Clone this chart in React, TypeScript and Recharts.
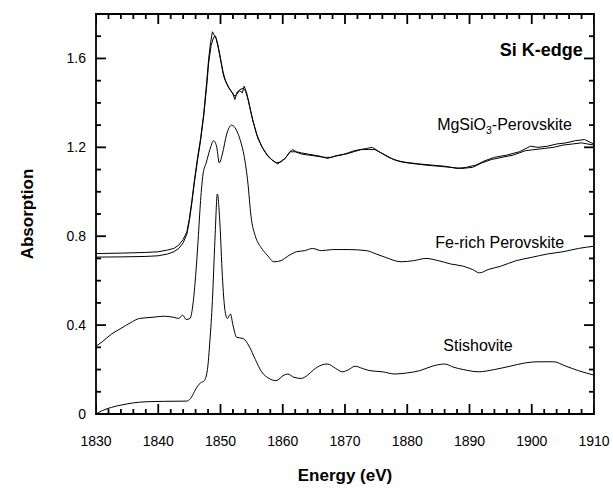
import { LineChart, Line, XAxis, YAxis, ReferenceDot, ReferenceArea } from "recharts";

const FONT = "'Liberation Sans', Arial, Helvetica, sans-serif";

// [energy (eV), absorption]
const mgsio3A: [number, number][] = [
  [1830, 0.722], [1834, 0.724], [1838, 0.727], [1840, 0.73], [1841.5, 0.738],
  [1842.5, 0.745], [1843.3, 0.76], [1844, 0.785], [1844.6, 0.82], [1845, 0.88],
  [1845.4, 0.96], [1845.8, 1.05], [1846.3, 1.15], [1846.8, 1.24], [1847.3, 1.35],
  [1847.8, 1.5], [1848.1, 1.6], [1848.4, 1.67], [1848.7, 1.72], [1849.0, 1.705],
  [1849.3, 1.69], [1849.7, 1.64], [1850.1, 1.58], [1850.5, 1.52], [1851.0, 1.485],
  [1851.5, 1.46], [1852.0, 1.44], [1852.3, 1.415], [1852.7, 1.45], [1853.1, 1.455],
  [1853.5, 1.445], [1853.8, 1.475], [1854.2, 1.445], [1854.7, 1.38], [1855.3, 1.31],
  [1856.0, 1.24], [1856.8, 1.195], [1857.6, 1.16], [1858.4, 1.14], [1859.2, 1.125],
  [1859.8, 1.14], [1860.4, 1.15], [1861.0, 1.175], [1861.5, 1.19], [1862.2, 1.18],
  [1863, 1.175], [1864, 1.17], [1865, 1.165], [1866, 1.16], [1867.2, 1.15],
  [1868.3, 1.16], [1869.4, 1.165], [1870.5, 1.175], [1871.5, 1.185], [1872.5, 1.19],
  [1873.5, 1.195], [1874.4, 1.2], [1875.5, 1.18], [1876.5, 1.165], [1877.8, 1.145],
  [1879, 1.135], [1880.5, 1.13], [1882, 1.125], [1884, 1.12], [1886, 1.115],
  [1888, 1.105], [1889.5, 1.11], [1891, 1.12], [1892.5, 1.14], [1894, 1.155],
  [1896, 1.165], [1898, 1.18], [1899.8, 1.205], [1901, 1.2], [1902.5, 1.205],
  [1904, 1.215], [1905.5, 1.22], [1907, 1.23], [1908.5, 1.235], [1909.2, 1.225],
  [1910, 1.215],
];

const mgsio3B: [number, number][] = [
  [1830, 0.706], [1834, 0.707], [1838, 0.709], [1840, 0.712], [1841.5, 0.72],
  [1842.5, 0.73], [1843.3, 0.745], [1844, 0.77], [1844.6, 0.81], [1845, 0.87],
  [1845.4, 0.95], [1845.8, 1.04], [1846.3, 1.14], [1846.8, 1.23], [1847.3, 1.34],
  [1847.8, 1.48], [1848.1, 1.58], [1848.5, 1.66], [1848.9, 1.695], [1849.2, 1.7],
  [1849.6, 1.66], [1850.0, 1.6], [1850.4, 1.54], [1850.8, 1.5], [1851.3, 1.47],
  [1851.8, 1.45], [1852.3, 1.43], [1852.7, 1.44], [1853.1, 1.46], [1853.6, 1.465],
  [1854.0, 1.455], [1854.5, 1.41], [1855.1, 1.33], [1855.8, 1.26], [1856.6, 1.205],
  [1857.4, 1.17], [1858.2, 1.145], [1859, 1.13], [1859.8, 1.135], [1860.5, 1.155],
  [1861.2, 1.18], [1862, 1.18], [1863, 1.17], [1864.2, 1.165], [1865.5, 1.16],
  [1866.6, 1.155], [1867.8, 1.155], [1869, 1.165], [1870.2, 1.17], [1871.4, 1.18],
  [1872.6, 1.19], [1873.8, 1.19], [1874.8, 1.19], [1875.8, 1.175], [1877, 1.155],
  [1878.4, 1.14], [1880, 1.13], [1881.5, 1.125], [1883, 1.12], [1885, 1.115],
  [1887, 1.11], [1888.8, 1.105], [1890.5, 1.11], [1892, 1.13], [1893.5, 1.145],
  [1895.2, 1.155], [1897, 1.165], [1899, 1.185], [1900.5, 1.19], [1902, 1.195],
  [1903.5, 1.2], [1905, 1.21], [1906.5, 1.215], [1908, 1.22], [1909, 1.215],
  [1910, 1.21],
];

const feRich: [number, number][] = [
  [1830, 0.305], [1831, 0.325], [1832.5, 0.36], [1834, 0.385], [1835.5, 0.41],
  [1837, 0.43], [1839, 0.435], [1841, 0.44], [1842.5, 0.435], [1843.3, 0.43],
  [1843.9, 0.445], [1844.5, 0.425], [1845.1, 0.43], [1845.6, 0.5], [1846.0, 0.62],
  [1846.4, 0.78], [1846.8, 0.96], [1847.2, 1.08], [1847.7, 1.13], [1848.3, 1.19],
  [1848.9, 1.23], [1849.4, 1.2], [1849.8, 1.13], [1850.3, 1.17], [1851.0, 1.26],
  [1851.8, 1.3], [1852.5, 1.28], [1853.2, 1.23], [1853.8, 1.16], [1854.4, 1.04],
  [1854.9, 0.89], [1855.6, 0.8], [1856.5, 0.75], [1857.5, 0.715], [1858.6, 0.685],
  [1859.7, 0.69], [1860.8, 0.71], [1862.2, 0.73], [1863.5, 0.735], [1864.8, 0.745],
  [1866.2, 0.735], [1868, 0.74], [1870.5, 0.74], [1873.5, 0.735], [1875, 0.72],
  [1876.5, 0.705], [1879, 0.685], [1881, 0.69], [1883, 0.7], [1885, 0.69],
  [1887, 0.675], [1889, 0.665], [1890.5, 0.65], [1891.6, 0.635], [1893, 0.65],
  [1895, 0.665], [1897.5, 0.69], [1900, 0.705], [1902.5, 0.72], [1905, 0.73],
  [1907.5, 0.745], [1910, 0.755],
];

const stishovite: [number, number][] = [
  [1830, 0.0], [1831, 0.015], [1832.5, 0.03], [1834, 0.04], [1836, 0.05],
  [1838, 0.055], [1841, 0.057], [1844.5, 0.058], [1845.2, 0.07], [1845.8, 0.1],
  [1846.3, 0.125], [1846.8, 0.14], [1847.4, 0.15], [1847.9, 0.2], [1848.3, 0.33],
  [1848.7, 0.51], [1849.1, 0.78], [1849.5, 0.99], [1849.9, 0.86], [1850.3, 0.62],
  [1850.7, 0.47], [1851.1, 0.43], [1851.6, 0.45], [1852.0, 0.4], [1852.6, 0.345],
  [1853.6, 0.34], [1854.6, 0.305], [1855.6, 0.245], [1856.6, 0.19], [1857.8, 0.16],
  [1858.9, 0.15], [1860.2, 0.175], [1860.8, 0.18], [1861.8, 0.165], [1863, 0.16],
  [1864, 0.175], [1865, 0.2], [1866.2, 0.22], [1867.2, 0.225], [1868.5, 0.205],
  [1869.6, 0.19], [1870.6, 0.2], [1871.6, 0.215], [1872.8, 0.205], [1874, 0.195],
  [1876, 0.19], [1878, 0.18], [1880, 0.185], [1882, 0.195], [1884, 0.215],
  [1886, 0.225], [1887.5, 0.21], [1889, 0.2], [1891.5, 0.19], [1894, 0.2],
  [1896.5, 0.215], [1899, 0.23], [1901, 0.235], [1903.5, 0.235], [1905.5, 0.215],
  [1907.5, 0.195], [1910, 0.175],
];

const xTicks = [1830, 1840, 1850, 1860, 1870, 1880, 1890, 1900, 1910];
const xMinorTicks = [
  1830, 1832, 1834, 1836, 1838, 1840, 1842, 1844, 1846, 1848, 1850, 1852, 1854,
  1856, 1858, 1860, 1862, 1864, 1866, 1868, 1870, 1872, 1874, 1876, 1878, 1880,
  1882, 1884, 1886, 1888, 1890, 1892, 1894, 1896, 1898, 1900, 1902, 1904, 1906,
  1908, 1910,
];
const yTicks = [0, 0.4, 0.8, 1.2, 1.6];
const yMinorTicks = [
  0, 0.1, 0.2, 0.3, 0.4, 0.5, 0.6, 0.7, 0.8, 0.9, 1.0, 1.1, 1.2, 1.3, 1.4, 1.5,
  1.6, 1.7, 1.8,
];
const xDomain: [number, number] = [1830, 1910];
const yDomain: [number, number] = [0, 1.8];

// tick lengths in data units (about 10px major / 5px minor on this plot)
const TICK_Y = { major: 0.045, minor: 0.0225 };
const TICK_X = { major: 1.6, minor: 0.8 };

const toRows = (pts: [number, number][]) => pts.map(([e, a]) => ({ e, a }));

// inward tick marks, each a short two-point series
const tickSegments = () => {
  const segs: { id: string; rows: { e: number; a: number }[] }[] = [];
  xMinorTicks.forEach((v) => {
    const len = xTicks.includes(v) ? TICK_Y.major : TICK_Y.minor;
    segs.push({ id: `b${v}`, rows: [{ e: v, a: yDomain[0] }, { e: v, a: yDomain[0] + len }] });
    segs.push({ id: `t${v}`, rows: [{ e: v, a: yDomain[1] }, { e: v, a: yDomain[1] - len }] });
  });
  yMinorTicks.forEach((v) => {
    const len = yTicks.includes(v) ? TICK_X.major : TICK_X.minor;
    segs.push({ id: `l${v}`, rows: [{ e: xDomain[0], a: v }, { e: xDomain[0] + len, a: v }] });
    segs.push({ id: `r${v}`, rows: [{ e: xDomain[1] - len, a: v }, { e: xDomain[1], a: v }] });
  });
  return segs;
};

// tick numbers only
const AxisLabel = (props: any) => {
  const { x, y, payload, side } = props;
  const v = payload.value;
  if (side === "bottom") {
    return (
      <text x={x} y={y + 32} textAnchor="middle" fontFamily={FONT} fontSize={14} fill="#000">
        {v}
      </text>
    );
  }
  return (
    <text x={x - 10} y={y} dy="0.36em" textAnchor="end" fontFamily={FONT} fontSize={14} fill="#000">
      {v === 0 ? "0" : v.toFixed(1)}
    </text>
  );
};

const Note = (props: any) => {
  const { viewBox, text, sub, rest, anchor = "start", size = 16, bold } = props;
  if (!viewBox) return null;
  return (
    <text
      x={viewBox.x}
      y={viewBox.y}
      textAnchor={anchor}
      fontFamily={FONT}
      fontSize={size}
      fontWeight={bold ? "bold" : "normal"}
      fill="#000"
    >
      {text}
      {sub && (
        <tspan fontSize={size * 0.65} dy={4}>
          {sub}
        </tspan>
      )}
      {rest && <tspan dy={sub ? -4 : 0}>{rest}</tspan>}
    </text>
  );
};

const YTitle = (props: any) => {
  const vb = props.viewBox;
  if (!vb) return null;
  const x = vb.x + 27;
  const y = vb.y + vb.height / 2;
  return (
    <text
      x={x}
      y={y}
      transform={`rotate(-90, ${x}, ${y})`}
      textAnchor="middle"
      dominantBaseline="central"
      fontFamily={FONT}
      fontSize={17}
      fontWeight="bold"
      fill="#000"
    >
      Absorption
    </text>
  );
};

const XTitle = (props: any) => {
  const vb = props.viewBox;
  if (!vb) return null;
  return (
    <text
      x={vb.x + vb.width / 2}
      y={vb.y + 67}
      textAnchor="middle"
      fontFamily={FONT}
      fontSize={17}
      fontWeight="bold"
      fill="#000"
    >
      Energy (eV)
    </text>
  );
};

export default function App() {
  const ticks = tickSegments();
  return (
    <div style={{ position: "absolute", left: 0, top: 0, width: 613, height: 489, background: "#fff" }}>
      <LineChart width={613} height={489} margin={{ top: 14, right: 19, left: 0, bottom: 0 }}>
        <XAxis
          xAxisId="x"
          dataKey="e"
          type="number"
          domain={xDomain}
          allowDataOverflow
          ticks={xTicks}
          interval={0}
          height={75}
          tickSize={0}
          tickMargin={0}
          tickLine={false}
          axisLine={false}
          tick={<AxisLabel side="bottom" />}
          label={<XTitle />}
        />
        <YAxis
          yAxisId="y"
          type="number"
          domain={yDomain}
          allowDataOverflow
          ticks={yTicks}
          interval={0}
          width={96}
          tickSize={0}
          tickMargin={0}
          tickLine={false}
          axisLine={false}
          tick={<AxisLabel side="left" />}
          label={<YTitle />}
        />

        <ReferenceArea
          xAxisId="x"
          yAxisId="y"
          x1={xDomain[0]}
          x2={xDomain[1]}
          y1={yDomain[0]}
          y2={yDomain[1]}
          fill="none"
          fillOpacity={0}
          stroke="#000"
          strokeWidth={1.8}
          strokeOpacity={1}
        />

        {ticks.map((s) => (
          <Line key={s.id} xAxisId="x" yAxisId="y" data={s.rows} dataKey="a" type="linear"
            dot={false} activeDot={false} stroke="#000" strokeWidth={1.8} isAnimationActive={false} />
        ))}

        <Line xAxisId="x" yAxisId="y" data={toRows(mgsio3A)} dataKey="a" type="linear" dot={false} stroke="#000" strokeWidth={1} isAnimationActive={false} />
        <Line xAxisId="x" yAxisId="y" data={toRows(mgsio3B)} dataKey="a" type="linear" dot={false} stroke="#000" strokeWidth={1} isAnimationActive={false} />
        <Line xAxisId="x" yAxisId="y" data={toRows(feRich)} dataKey="a" type="monotone" dot={false} stroke="#000" strokeWidth={1} isAnimationActive={false} />
        <Line xAxisId="x" yAxisId="y" data={toRows(stishovite)} dataKey="a" type="monotone" dot={false} stroke="#000" strokeWidth={1} isAnimationActive={false} />

        <ReferenceDot xAxisId="x" yAxisId="y" x={1908.2} y={1.611} r={0} fill="none" stroke="none"
          label={<Note text="Si K-edge" anchor="end" size={18} bold />} />
        <ReferenceDot xAxisId="x" yAxisId="y" x={1884.8} y={1.278} r={0} fill="none" stroke="none"
          label={<Note text="MgSiO" sub="3" rest="-Perovskite" />} />
        <ReferenceDot xAxisId="x" yAxisId="y" x={1884.5} y={0.747} r={0} fill="none" stroke="none"
          label={<Note text="Fe-rich Perovskite" />} />
        <ReferenceDot xAxisId="x" yAxisId="y" x={1885.8} y={0.284} r={0} fill="none" stroke="none"
          label={<Note text="Stishovite" />} />
      </LineChart>
    </div>
  );
}
